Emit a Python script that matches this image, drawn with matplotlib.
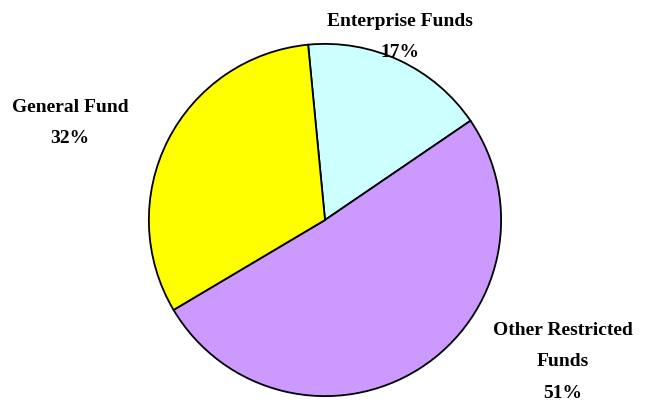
import matplotlib
matplotlib.use('Agg')
from matplotlib import pyplot as plt

# fund shares (percent), clockwise from the top
funds = ['Enterprise Funds', 'Other Restricted\nFunds', 'General Fund']
shares = [17, 51, 32]
colors = ['#CCFFFF', '#CC99FF', '#FFFF00']

W, H = 654, 407
fig = plt.figure(figsize=(W / 100, H / 100), dpi=100)

# pie centre ~ (325, 220) px, radius ~177 px
cx, cy, r = 325, 220, 177
ax = fig.add_axes([(cx - r) / W, (H - cy - r) / H, 2 * r / W, 2 * r / H])
ax.pie(shares, colors=colors, startangle=95.5, counterclock=False,
       wedgeprops={'edgecolor': 'black', 'linewidth': 1.3})
ax.set_xlim(-1.005, 1.005)
ax.set_ylim(-1.005, 1.005)
ax.set_aspect('equal')
ax.axis('off')

# label positions in pixels (centre of text block)
label_pos = [(400, 37), (563, 362), (70, 123)]
for name, val, (px, py) in zip(funds, shares, label_pos):
    fig.text(px / W, 1 - py / H, '{0}\n{1}%'.format(name, val),
             ha='center', va='center', fontsize=14, fontweight='bold',
             family='Liberation Serif', linespacing=2.08)

plt.savefig('out.png', dpi=100)
